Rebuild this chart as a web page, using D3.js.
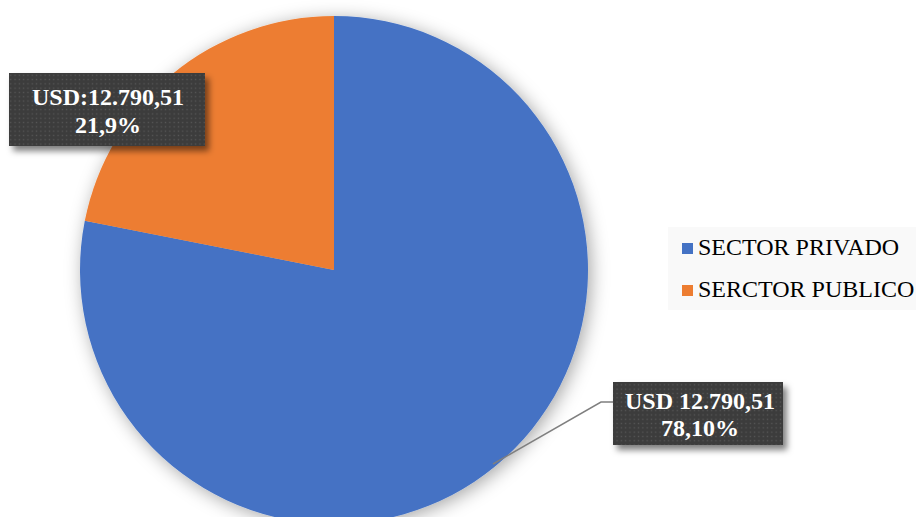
<!DOCTYPE html>
<html><head><meta charset="utf-8">
<script src="https://cdn.jsdelivr.net/npm/d3@7/dist/d3.min.js"></script>
<style>body{margin:0;background:#fff}svg{display:block}</style>
</head><body>
<svg id="c" width="916" height="517"></svg>
<script>
const categories = ["SECTOR PRIVADO", "SERCTOR PUBLICO"];
const values = [78.1, 21.9];
const amountLabels = ["USD 12.790,51", "USD:12.790,51"];
const percentLabels = ["78,10%", "21,9%"];
const colors = ["#4472C4", "#ED7D31"];

const svg = d3.select("#c");
const defs = svg.append("defs");
const f1 = defs.append("filter").attr("id","pieShadow").attr("x","-20%").attr("y","-20%").attr("width","140%").attr("height","140%");
f1.append("feDropShadow").attr("dx",3).attr("dy",3).attr("stdDeviation",9).attr("flood-color","#000").attr("flood-opacity",0.35);
const f2 = defs.append("filter").attr("id","boxShadow").attr("x","-20%").attr("y","-30%").attr("width","150%").attr("height","170%");
f2.append("feDropShadow").attr("dx",4).attr("dy",5).attr("stdDeviation",3).attr("flood-color","#000").attr("flood-opacity",0.5);
const pat = defs.append("pattern").attr("id","dots").attr("patternUnits","userSpaceOnUse").attr("width",4.3).attr("height",4.3);
pat.append("rect").attr("width",4.3).attr("height",4.3).attr("fill","#3c3c3c");
pat.append("rect").attr("x",1.5).attr("y",1.5).attr("width",1.3).attr("height",1.3).attr("fill","#585858");

const cx = 334, cy = 270, r = 254;
const pie = d3.pie().sort(null).value(d => d)(values);
const arc = d3.arc().innerRadius(0).outerRadius(r);
const g = svg.append("g").attr("transform",`translate(${cx},${cy})`);
g.append("g").attr("filter","url(#pieShadow)").selectAll("path").data(pie).join("path")
  .attr("d", arc).attr("fill", (d,i) => colors[i]);

// leader line for private slice
svg.append("polyline").attr("points","493,464 601,402 613,402")
  .attr("fill","none").attr("stroke","#7f7f7f").attr("stroke-width",1.5);

// label boxes
const boxes = [
  {x:613, y:382, w:170, h:63, cxT:700, b1:409, b2:436},
  {x:9, y:73, w:196, h:73, cxT:108, b1:105, b2:133}
];
const serif = "Liberation Serif, Times New Roman, serif";
boxes.forEach((b,i) => {
  svg.append("rect").attr("x",b.x).attr("y",b.y).attr("width",b.w).attr("height",b.h)
    .attr("fill","url(#dots)").attr("filter","url(#boxShadow)");
  svg.append("rect").attr("x",b.x).attr("y",b.y).attr("width",b.w).attr("height",b.h)
    .attr("fill","url(#dots)");
  const t = svg.append("text").attr("text-anchor","middle").attr("fill","#fff")
    .attr("font-family",serif).attr("font-weight","bold").attr("font-size",24);
  t.append("tspan").attr("x",b.cxT).attr("y",b.b1).text(amountLabels[i]);
  t.append("tspan").attr("x",b.cxT).attr("y",b.b2).text(percentLabels[i]);
});

// legend
svg.append("rect").attr("x",668).attr("y",227).attr("width",248).attr("height",83).attr("fill","#f9f9f9");
const lg = svg.append("g");
categories.forEach((c,i) => {
  const y = 255 + i*42;
  lg.append("rect").attr("x",682).attr("y",y-12).attr("width",11).attr("height",11).attr("fill",colors[i]);
  lg.append("text").attr("x",698).attr("y",y).attr("fill","#000")
    .attr("font-family",serif).attr("font-size",24).text(c);
});
</script>
</body></html>
